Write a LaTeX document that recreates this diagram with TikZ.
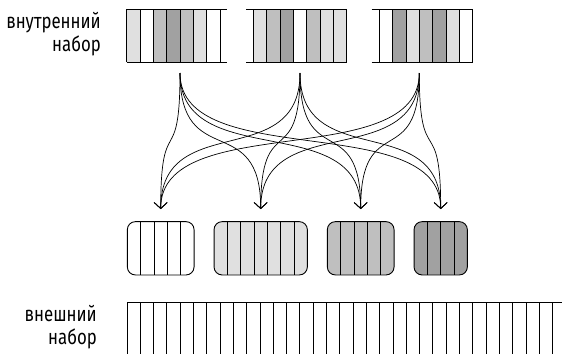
\documentclass[tikz,border=0pt]{standalone}
\usepackage{fontspec}
\newfontfamily\labfont[FakeStretch=0.8]{Fira Sans}
\usetikzlibrary{arrows.meta}
\definecolor{shW}{gray}{1}
\definecolor{shL}{gray}{0.88}
\definecolor{shM}{gray}{0.75}
\definecolor{shD}{gray}{0.63}
\tikzset{
  ln/.style={line width=0.9pt, black},
  lab/.style={align=right, anchor=east, inner sep=0pt, font=\labfont\fontsize{21}{22.5}\selectfont},
  bbox/.style={draw, line width=0.9pt, rounded corners=8pt, inner sep=0pt, minimum height=53.3pt},
  flow/.style={line width=0.7pt, -{Straight Barb[length=6pt,width=13pt]}},
}
\newcommand{\setrow}[4]{% x0, hstart, hend, fills
  \foreach \c [count=\i from 0] in {#4} {
    \fill[fill=\c] ({#1+13.333*\i},9) rectangle ({#1+13.333*(\i+1)},62);
  }
  \foreach \i in {0,...,7} { \draw[ln] ({#1+13.333*\i},9) -- ({#1+13.333*\i},62); }
  \draw[ln] (#2,9) -- (#3,9);
  \draw[ln] (#2,62) -- (#3,62);
}
\begin{document}
\begin{tikzpicture}[x=1pt,y=-1pt]
\useasboundingbox (0,0) rectangle (562,354);
% labels
\node[lab] (lblin) at (101,34) {внутренний\\набор};
\node[lab] (lblout) at (97,327) {внешний\\набор};
% inner set boxes
\setrow{126.7}{126.7}{227}{shL,shW,shM,shD,shM,shL,shW}
\setrow{253.3}{246}{346.7}{shL,shM,shD,shW,shM,shL,shL}
\setrow{379.3}{371.7}{472.7}{shW,shD,shL,shM,shD,shL,shW}
% sources and targets
\coordinate (s1) at (180,73);
\coordinate (s2) at (300,73);
\coordinate (s3) at (419.3,73);
\coordinate (t1) at (160.7,209);
\coordinate (t2) at (260.7,209);
\coordinate (t3) at (360.7,209);
\coordinate (t4) at (440.7,209);
\foreach \s in {s1,s2,s3} {
  \foreach \t in {t1,t2,t3,t4} {
    \draw[flow] (\s) .. controls +(0,100) and +(0,-100) .. (\t);
  }
}
% grouped boxes
\node[bbox, fill=shW, minimum width=66.7pt] (g1) at (160.7,248.3) {};
\node[bbox, fill=shL, minimum width=93.3pt] (g2) at (260.7,248.3) {};
\node[bbox, fill=shM, minimum width=66.7pt] (g3) at (360.7,248.3) {};
\node[bbox, fill=shD, minimum width=53.3pt] (g4) at (440.7,248.3) {};
\foreach \x in {140.7,154,167.3,180.7} { \draw[ln] (\x,221.7) -- (\x,275); }
\foreach \x in {227.3,240.7,254,267.3,280.7,294} { \draw[ln] (\x,221.7) -- (\x,275); }
\foreach \x in {340.7,354,367.3,380.7} { \draw[ln] (\x,221.7) -- (\x,275); }
\foreach \x in {427.3,440.7,454} { \draw[ln] (\x,221.7) -- (\x,275); }
% outer set
\draw[ln] (127,302) -- (562,302);
\foreach \i in {0,...,32} { \draw[ln] ({127+13.3*\i},302) -- ({127+13.3*\i},354); }
\end{tikzpicture}
\end{document}
